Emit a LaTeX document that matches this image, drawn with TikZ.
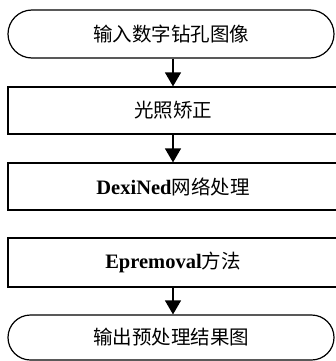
\documentclass[tikz,border=0pt]{standalone}
\usepackage{fontspec}
\setmainfont{Liberation Serif}
\newfontfamily\cjk{Noto Sans CJK SC}
\usetikzlibrary{shapes.misc,arrows.meta}

\tikzset{
	term/.style={rounded rectangle, draw, line width=1.2pt, minimum width=326pt, inner sep=0pt},
	stepbox/.style={rectangle, draw, line width=1.2pt, minimum width=330pt, inner sep=0pt},
	flow/.style={line width=1.2pt, -{Triangle[width=16pt,length=14pt]}},
	every node/.append style={font=\fontsize{19.5}{22}\selectfont}
}

\begin{document}
\begin{tikzpicture}[x=1pt, y=-1pt]
		\clip (0, 0) rectangle (336, 361);
		\node [term, minimum height=48pt] (start) at (171, 34) {\cjk 输入数字钻孔图像};
		\node [stepbox, minimum height=47pt] (light) at (173, 110.5) {\cjk 光照矫正};
		\node [stepbox, minimum height=47pt] (dexi) at (173, 186.5) {{\fontsize{20.5}{22}\selectfont\bfseries DexiNed}{\cjk 网络处理}};
		\node [stepbox, minimum height=49pt] (eprem) at (173, 262.5) {{\fontsize{20.5}{22}\selectfont\bfseries Epremoval}{\cjk 方法}};
		\node [term, minimum height=45pt] (finish) at (171, 337.5) {\cjk 输出预处理结果图};
		% arrows between the steps
		\draw [flow] (start.south -| light.north) -- (light.north);
		\draw [flow] (light) -- (dexi);
		\draw [flow] (eprem) -- (finish.north -| eprem.south);
	\end{tikzpicture}
\end{document}
